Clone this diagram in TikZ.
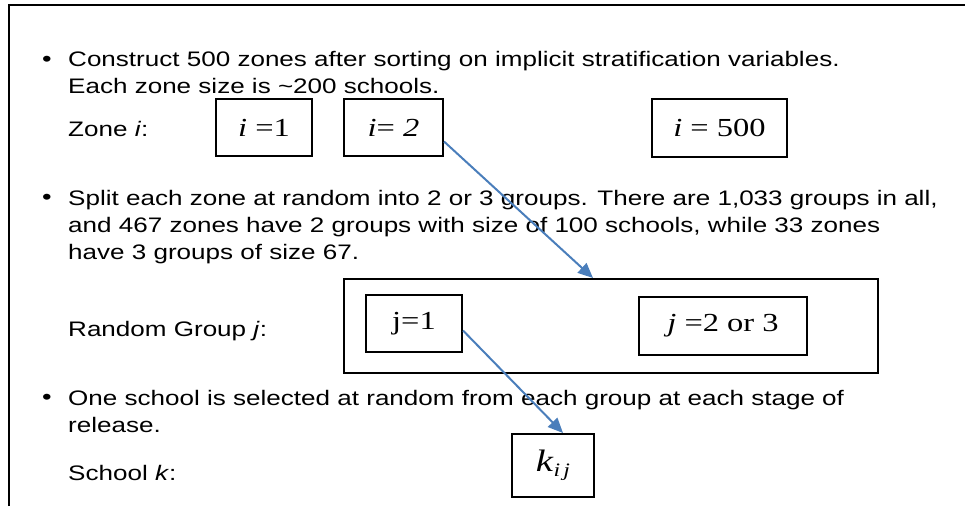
\documentclass[tikz,border=0pt]{standalone}
\usepackage{fontspec}
\setmainfont{Liberation Sans}[FakeStretch=1.24]
\newfontfamily\boxfont{Liberation Serif}[FakeStretch=1.25]
\usepackage{xcolor}
\definecolor{arrowblue}{RGB}{74,126,187}
\usetikzlibrary{arrows.meta,positioning}
\tikzset{
  item_dot/.style={anchor=base,inner sep=0pt,
    font=\fontsize{22}{27}\selectfont},
  item_txt/.style={anchor=base west,align=left,inner sep=0pt,
    font=\fontsize{21}{27}\selectfont},
  var_label/.style={anchor=base west,inner sep=0pt,
    font=\fontsize{21}{27}\selectfont},
  var_box/.style={rectangle,draw=black,line width=2pt,
    anchor=north west,inner sep=0pt,
    font=\boxfont\fontsize{26}{30}\selectfont},
  grp_frame/.style={rectangle,draw=black,line width=2pt,
    anchor=north west,inner sep=0pt},
  arr/.style={-{Triangle[length=15pt,width=13pt]},line width=2pt,draw=arrowblue},
}

\begin{document}
\begin{tikzpicture}[x=1pt,y=-1pt]
  \useasboundingbox (0,0) rectangle (965,506);
  % outer frame (only top and left visible)
  \draw[line width=2pt] (9,506) -- (9,5) -- (965,5);

  % stage 1: zones
  \node (dot1) [item_dot] at (47,66) {•};
  \node (txt1) [item_txt] at (68,93)
    {Construct 500 zones after sorting on implicit stratification variables.\\
     Each zone size is \textasciitilde200 schools.};
  \node (lblzone) [var_label] at (68,136) {Zone \textit{i}:};
  \node (zone1) [var_box,minimum width=96pt,minimum height=57pt] at (215,98)
    {\textit{i} =1};
  \node (zone2) [var_box,minimum width=99pt,minimum height=57pt] at (343,98)
    {\textit{i}= \textit{2}};
  \node (zone500) [var_box,minimum width=135pt,minimum height=58pt] at (651,98)
    {\textit{i} = 500};

  % stage 2: random groups
  \node (dot2) [item_dot] at (47,204) {•};
  \node (txt2) [item_txt] at (68,259)
    {Split each zone at random into 2 or 3 groups. There are 1,033 groups in all,\\
     and 467 zones have 2 groups with size of 100 schools, while 33 zones\\
     have 3 groups of size 67.};
  \node (lblgrp) [var_label] at (68,336) {Random Group \textit{j}:};
  \node (grp) [grp_frame,minimum width=534pt,minimum height=94pt] at (343,278) {};
  \node (grp1) [var_box,minimum width=96pt,minimum height=57pt] at (365,294)
    {j=1};
  \node (grp23) [var_box,minimum width=168pt,minimum height=58pt] at (638,296)
    {\textit{j} =2 or 3};

  % stage 3: schools
  \node (dot3) [item_dot] at (47,404) {•};
  \node (txt3) [item_txt] at (68,432)
    {One school is selected at random from each group at each stage of\\
     release.};
  \node (lblschool) [var_label] at (68,480) {School \textit{k}:};
  \node (school) [var_box,minimum width=82pt,minimum height=63pt] at (511,433)
    {\fontsize{31}{31}\selectfont\textit{k}\raisebox{-5pt}{\fontsize{19}{19}\selectfont\textit{i\,j}}};

  \draw[arr] ([yshift=-14pt]zone2.east) -- ([xshift=-18pt]grp.north);
  \draw[arr] ([yshift=-7pt]grp1.east) -- ([xshift=10pt]school.north);
\end{tikzpicture}
\end{document}
